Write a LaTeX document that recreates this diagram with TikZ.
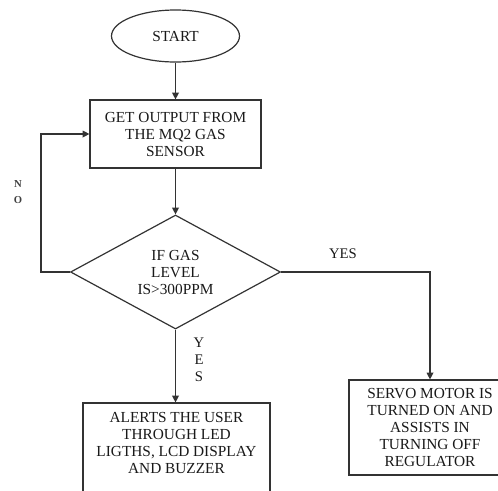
\documentclass[tikz,border=0pt]{standalone}
\usepackage{fontspec}
\setmainfont{Liberation Serif}
\usetikzlibrary{shapes.geometric,arrows.meta}
\begin{document}
\begin{tikzpicture}[x=0.75pt,y=-0.75pt,
  ln/.style={draw=black!80, line width=0.9pt},
  arr/.style={ln, -{Triangle[length=5pt,width=5pt]}},
  txt/.style={font=\fontsize{11.5pt}{12.75pt}\selectfont, text=black!90, align=center, inner sep=0pt},
  startbox/.style={ln, ellipse, minimum width=96pt, minimum height=39pt, inner sep=0pt, txt},
  procbox/.style={ln, rectangle, inner sep=0pt},
  decbox/.style={ln, diamond, aspect=1.84, minimum width=157.5pt, minimum height=85.5pt, inner sep=0pt, txt},
  lbl/.style={font=\fontsize{11pt}{12.75pt}\selectfont, text=black!90, inner sep=0pt},
  smalllbl/.style={font=\fontsize{8pt}{10.5pt}\selectfont\bfseries, text=black!75, inner sep=0pt}
]
\useasboundingbox (0,0) rectangle (498,490);
\clip (0,0) rectangle (498,490);

\node[startbox] (start) at (175.5,36) {START};
\node[procbox, minimum width=128.25pt, minimum height=51pt, txt] (get) at (175.5,134)
  {GET OUTPUT FROM\\THE MQ2 GAS\\SENSOR};
\node[decbox] (dec) at (175.5,272) {IF GAS\\LEVEL\\IS>300PPM};

\node[procbox, minimum width=140.25pt, minimum height=69pt] (alert) at (176.5,449) {};
\node[txt] (alerttext) at (176.5,443) {ALERTS THE USER\\THROUGH LED\\LIGTHS, LCD DISPLAY\\AND BUZZER};

\node[procbox, minimum width=121.5pt, minimum height=71.25pt, txt] (servo) at (430,427.5)
  {SERVO MOTOR IS\\TURNED ON AND\\ASSISTS IN\\TURNING OFF\\REGULATOR};

\coordinate (noturn) at (41,272);
\coordinate (yesturn) at (430,272);

\draw[arr] (start.south) -- (get.north);
\draw[arr] (get.south) -- (dec.north);
\draw[arr] (dec.west) -- (noturn) |- (get.west);
\draw[arr] (dec.east) -- (yesturn) -- (servo.north);
\draw[arr] (dec.south) -- (dec.south |- alert.north);

\node[smalllbl, align=center] (nolbl) at (18,192) {N\\[1.5pt]O};
\node[lbl] (yes1) at (343,254) {YES};
\node[lbl, align=center] (yes2) at (199,360) {Y\\E\\S};
\end{tikzpicture}
\end{document}
